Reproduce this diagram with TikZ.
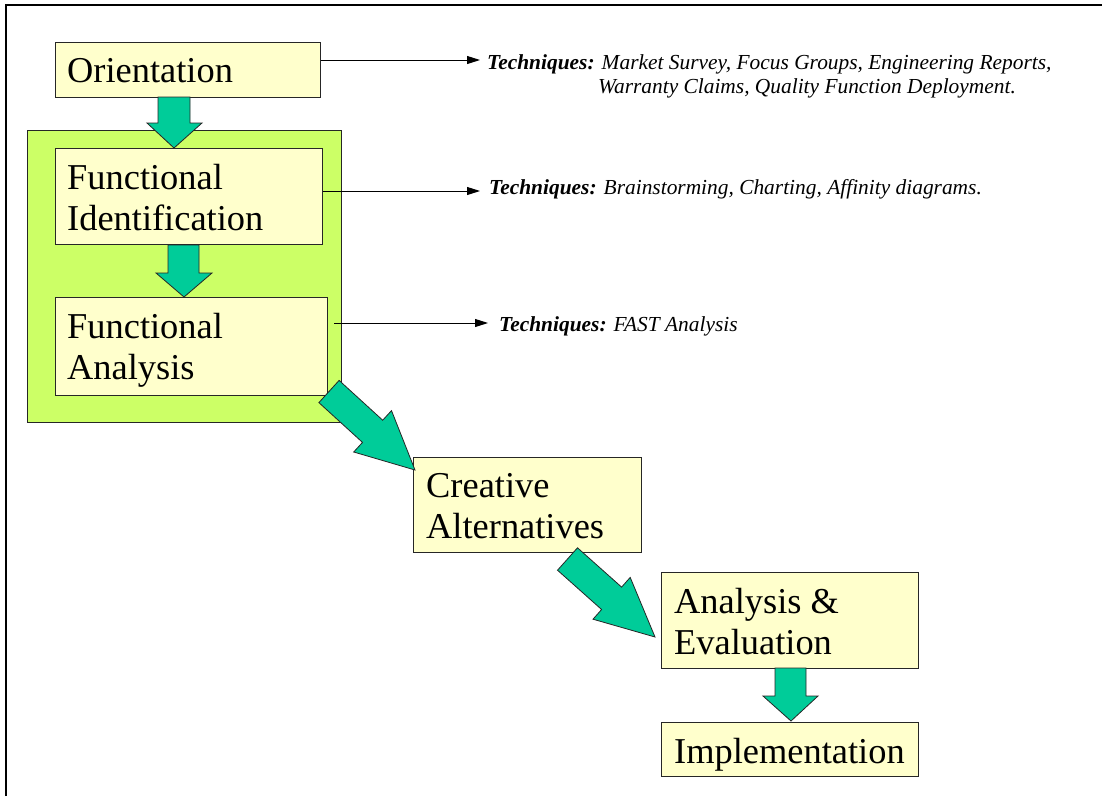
\documentclass[tikz,border=0pt]{standalone}
\usepackage{fontspec}
\setmainfont{Liberation Serif}
\usetikzlibrary{arrows.meta}
\definecolor{boxfill}{HTML}{FFFFCC}
\definecolor{groupfill}{HTML}{CCFF66}
\definecolor{arrowfill}{HTML}{00CC99}
\begin{document}
\begin{tikzpicture}[x=1pt,y=-1pt,
  stagebox/.style={draw=black!85, line width=1.1pt, fill=boxfill, inner sep=0pt, anchor=north west},
  stagetext/.style={anchor=north west, inner sep=0pt, align=left, font=\fontsize{36.4}{41}\selectfont},
  groupbox/.style={draw=black!85, line width=1.1pt, fill=groupfill, inner sep=0pt, anchor=north west},
  blockarrow/.style={draw=black!85, line width=0.8pt, fill=arrowfill, line join=miter},
  techline/.style={line width=0.9pt, -{Triangle[length=13pt,width=8pt]}},
  techtext/.style={anchor=north west, inner sep=0pt, align=left, font=\fontsize{21.4}{24.5}\selectfont\itshape},
]
\useasboundingbox (0,0) rectangle (1102,796);
\fill[white] (0,0) rectangle (1102,796);
% frame
\draw[line width=2pt] (6,796) -- (6,5) -- (1102,5);

% boxes
\node[groupbox, minimum width=314pt, minimum height=292pt] (grp) at (27,130) {};
\node[stagebox, minimum width=265pt, minimum height=55pt] (ori) at (55,42) {};
\node[stagebox, minimum width=267pt, minimum height=96pt] (fid) at (55,148) {};
\node[stagebox, minimum width=272pt, minimum height=98pt] (fan) at (55,297) {};
\node[stagebox, minimum width=228pt, minimum height=95pt] (cre) at (413,457) {};
\node[stagebox, minimum width=257pt, minimum height=96pt] (ane) at (661,572) {};
\node[stagebox, minimum width=257pt, minimum height=54pt] (imp) at (661,722) {};

% box texts
\node[stagetext] (orit) at ([shift={(12,16)}]ori.north west) {Orientation};
\node[stagetext] (fidt) at ([shift={(12,16)}]fid.north west) {Functional\\Identification};
\node[stagetext] (fant) at ([shift={(12,16)}]fan.north west) {Functional\\Analysis};
\node[stagetext] (cret) at ([shift={(13,16)}]cre.north west) {Creative\\Alternatives};
\node[stagetext] (anet) at ([shift={(13,16)}]ane.north west) {Analysis \&\\Evaluation};
\node[stagetext] (impt) at ([shift={(13,16)}]imp.north west) {Implementation};

% block arrows
\draw[blockarrow] (158,97) -- (190,97) -- (190,123) -- (202,123) -- (174,148) -- (147,123) -- (158,123) -- cycle;
\draw[blockarrow] (168,245) -- (199,245) -- (199,273) -- (212,273) -- (184,297) -- (156,273) -- (168,273) -- cycle;
\draw[blockarrow] (775,668) -- (806,668) -- (806,696) -- (818,696) -- (791,721) -- (763,696) -- (775,696) -- cycle;
\draw[blockarrow] (339.1,380.4) -- (382.7,420.2) -- (391.5,410.6) -- (415,470) -- (353.7,452.0) -- (362.5,442.4) -- (318.9,402.6) -- cycle;
\draw[blockarrow] (577.5,547.8) -- (621.6,587.1) -- (630.2,577.4) -- (655,637) -- (593,619.2) -- (601.6,609.5) -- (557.5,570.2) -- cycle;

% technique texts
\node[techtext] (t1) at (487,54) {\textbf{Techniques:} Market Survey, Focus Groups, Engineering Reports,\\\hspace*{111pt}Warranty Claims, Quality Function Deployment.};
\node[techtext] (t2) at (489,179.5) {\textbf{Techniques:} Brainstorming, Charting, Affinity diagrams.};
\node[techtext] (t3) at (499,316.5) {\textbf{Techniques:} FAST Analysis};

% technique connectors
\draw[techline] ([shift={(0,18)}]ori.north east) -- ([shift={(-7,6)}]t1.north west);
\draw[techline] ([shift={(0,43)}]fid.north east) -- ([shift={(-9,11.5)}]t2.north west);
\draw[techline] ([shift={(6,26)}]fan.north east) -- ([shift={(-11,6.5)}]t3.north west);
\end{tikzpicture}
\end{document}
